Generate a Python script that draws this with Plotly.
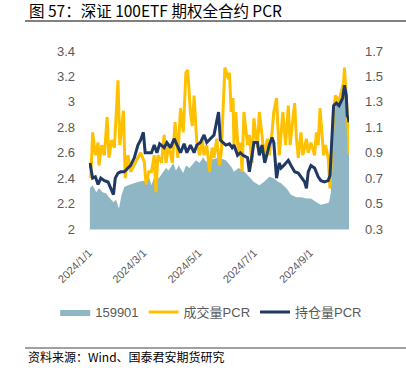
import plotly.graph_objects as go

# 159901 (left axis)
etf_dates = ["2024-01-02","2024-01-05","2024-01-09","2024-01-12","2024-01-16","2024-01-20","2024-01-23",
             "2024-01-28","2024-01-31","2024-02-03","2024-02-06","2024-02-09","2024-02-13","2024-02-19",
             "2024-02-24","2024-03-01","2024-03-04","2024-03-07","2024-03-10","2024-03-13","2024-03-15",
             "2024-03-18","2024-03-23","2024-03-26","2024-03-29","2024-04-03","2024-04-06","2024-04-09",
             "2024-04-14","2024-04-17","2024-04-21","2024-04-25","2024-04-28","2024-05-02","2024-05-06",
             "2024-05-09","2024-05-13","2024-05-18","2024-05-24","2024-05-26","2024-05-31","2024-06-06",
             "2024-06-09","2024-06-14","2024-06-19","2024-06-22","2024-06-26","2024-07-01","2024-07-07",
             "2024-07-12","2024-07-18","2024-07-23","2024-07-28","2024-07-31","2024-08-06","2024-08-11",
             "2024-08-17","2024-08-22","2024-08-28","2024-09-02","2024-09-08","2024-09-13","2024-09-19",
             "2024-09-22","2024-09-24","2024-09-26","2024-09-27","2024-09-30","2024-10-03","2024-10-05",
             "2024-10-08","2024-10-11","2024-10-12","2024-10-14"]
etf_values = [2.32,2.345,2.29,2.32,2.29,2.28,2.25,
              2.21,2.23,2.16,2.27,2.33,2.345,2.36,
              2.37,2.38,2.37,2.41,2.345,2.41,2.40,
              2.40,2.45,2.48,2.46,2.52,2.46,2.50,
              2.44,2.50,2.48,2.52,2.54,2.52,2.565,
              2.53,2.54,2.555,2.565,2.555,2.54,2.49,
              2.45,2.48,2.46,2.44,2.41,2.37,2.345,
              2.37,2.41,2.40,2.37,2.36,2.32,2.27,
              2.25,2.25,2.24,2.24,2.21,2.19,2.20,
              2.21,2.29,2.75,2.92,2.99,3.05,3.11,
              3.18,3.03,2.84,2.66]

# 成交量PCR (right axis)
vol_dates = ["2024-01-03","2024-01-05","2024-01-08","2024-01-11","2024-01-12","2024-01-15","2024-01-18",
             "2024-01-21","2024-01-23","2024-01-26","2024-01-29","2024-02-02","2024-02-04","2024-02-08",
             "2024-02-10","2024-02-13","2024-02-16","2024-02-20","2024-02-24","2024-02-27","2024-03-02",
             "2024-03-04","2024-03-07","2024-03-10","2024-03-13","2024-03-15","2024-03-17","2024-03-21",
             "2024-03-24","2024-03-26","2024-03-29","2024-04-02","2024-04-05","2024-04-08","2024-04-11",
             "2024-04-14","2024-04-17","2024-04-19","2024-04-22","2024-04-24","2024-04-26","2024-04-29",
             "2024-05-02","2024-05-05","2024-05-07","2024-05-10","2024-05-13","2024-05-16","2024-05-18",
             "2024-05-21","2024-05-24","2024-05-26","2024-05-28","2024-05-30","2024-06-03","2024-06-04",
             "2024-06-06","2024-06-08","2024-06-09","2024-06-11","2024-06-14","2024-06-16","2024-06-18",
             "2024-06-20","2024-06-24","2024-06-26","2024-06-29","2024-07-01","2024-07-05","2024-07-07",
             "2024-07-10","2024-07-12","2024-07-16","2024-07-18","2024-07-21","2024-07-23","2024-07-26",
             "2024-07-29","2024-07-31","2024-08-02","2024-08-05","2024-08-08","2024-08-10","2024-08-15",
             "2024-08-17","2024-08-19","2024-08-22","2024-08-24","2024-08-28","2024-08-30","2024-09-02",
             "2024-09-06","2024-09-08","2024-09-10","2024-09-12","2024-09-16","2024-09-18","2024-09-21",
             "2024-09-23","2024-09-27","2024-09-29","2024-10-02","2024-10-04","2024-10-08","2024-10-09",
             "2024-10-11","2024-10-13","2024-10-14"]
vol_pcr = [0.70,1.06,0.88,0.98,0.80,0.96,0.88,
           1.18,0.86,1.00,0.94,1.47,0.96,1.23,
           0.70,0.88,0.75,0.80,0.86,0.90,0.83,
           0.65,0.75,0.75,0.88,0.59,0.88,0.82,
           1.04,0.82,0.96,0.82,1.14,0.86,1.25,
           1.06,1.53,1.55,1.22,1.11,1.35,0.98,
           0.88,1.01,0.88,0.96,0.75,0.94,0.86,
           1.01,0.80,0.90,1.22,1.57,1.48,1.53,
           1.22,1.33,0.96,1.22,0.88,0.98,0.75,
           1.22,0.96,1.04,0.82,1.17,0.94,1.22,
           1.04,0.88,1.01,0.88,1.06,1.22,1.33,
           0.88,1.04,1.22,0.96,1.27,0.96,1.29,
           1.01,0.86,1.06,0.88,1.01,0.90,0.98,
           0.88,1.06,0.96,1.25,0.88,0.96,0.86,
           0.62,1.22,1.35,1.31,1.33,1.45,1.57,
           1.35,1.09,0.89]

# 持仓量PCR (right axis)
oi_dates = ["2024-01-02","2024-01-05","2024-01-08","2024-01-11","2024-01-14","2024-01-18","2024-01-22",
            "2024-01-25","2024-01-28","2024-01-30","2024-02-02","2024-02-05","2024-02-09","2024-02-13",
            "2024-02-16","2024-02-20","2024-02-24","2024-02-27","2024-03-01","2024-03-03","2024-03-07",
            "2024-03-10","2024-03-13","2024-03-16","2024-03-19","2024-03-24","2024-03-27","2024-03-31",
            "2024-04-04","2024-04-07","2024-04-11","2024-04-15","2024-04-18","2024-04-22","2024-04-26",
            "2024-04-29","2024-05-03","2024-05-07","2024-05-10","2024-05-14","2024-05-18","2024-05-23",
            "2024-05-25","2024-05-28","2024-05-31","2024-06-04","2024-06-07","2024-06-09","2024-06-13",
            "2024-06-16","2024-06-19","2024-06-24","2024-06-26","2024-06-29","2024-07-01","2024-07-05",
            "2024-07-07","2024-07-10","2024-07-13","2024-07-18","2024-07-21","2024-07-23","2024-07-26",
            "2024-07-29","2024-07-31","2024-08-03","2024-08-08","2024-08-11","2024-08-15","2024-08-19",
            "2024-08-22","2024-08-26","2024-08-28","2024-08-30","2024-09-02","2024-09-06","2024-09-10",
            "2024-09-13","2024-09-17","2024-09-21","2024-09-23","2024-09-27","2024-09-30","2024-10-03",
            "2024-10-07","2024-10-09","2024-10-11","2024-10-12","2024-10-13","2024-10-14"]
oi_pcr = [0.82,0.70,0.71,0.65,0.70,0.68,0.67,
          0.62,0.57,0.70,0.74,0.75,0.75,0.78,
          0.80,0.86,0.96,1.00,1.06,0.90,0.90,
          0.90,0.96,0.90,0.97,0.94,0.98,0.94,
          1.01,0.96,0.90,0.97,0.90,0.96,0.90,
          0.96,0.98,1.04,0.98,1.01,1.04,1.22,
          1.00,0.98,0.96,0.97,0.94,0.96,0.88,
          0.90,0.88,0.86,0.75,0.88,0.98,0.98,
          0.88,0.96,0.82,0.96,1.02,0.98,0.70,
          0.82,0.78,0.80,0.84,0.80,0.75,0.74,
          0.71,0.67,0.62,0.75,0.80,0.78,0.71,
          0.68,0.67,0.68,0.72,1.27,1.29,1.27,
          1.33,1.43,1.35,1.19,1.18,1.14]

tick_vals = ["2024-01-01","2024-03-01","2024-05-01","2024-07-01","2024-09-01"]
tick_text = ["2024/1/1","2024/3/1","2024/5/1","2024/7/1","2024/9/1"]

FONT = "Liberation Sans, Arial, sans-serif"
CJK = "Noto Sans CJK SC, sans-serif"
LEG = "Liberation Sans, Noto Sans CJK SC, sans-serif"
GRAY = "#595959"

fig = go.Figure()
fig.add_trace(go.Scatter(x=etf_dates, y=etf_values, name="159901", mode="lines",
                         line=dict(width=0, color="#8FB6C4"), fill="tozeroy",
                         fillcolor="#8FB6C4", yaxis="y"))
fig.add_trace(go.Scatter(x=vol_dates, y=vol_pcr, name="成交量PCR", mode="lines",
                         line=dict(width=3, color="#FFC000"), yaxis="y2"))
fig.add_trace(go.Scatter(x=oi_dates, y=oi_pcr, name="持仓量PCR", mode="lines",
                         line=dict(width=3, color="#1F3864"), yaxis="y2"))

fig.update_layout(
    width=406, height=368,
    margin=dict(l=89, r=57, t=51, b=139),
    paper_bgcolor="white", plot_bgcolor="white",
    showlegend=True,
    legend=dict(orientation="h", x=-0.13, xanchor="left", y=-0.466, yanchor="middle",
                font=dict(family=LEG, size=13, color=GRAY), bgcolor="rgba(0,0,0,0)",
                itemwidth=30, traceorder="normal"),
    xaxis=dict(type="date", range=["2024-01-01", "2024-10-14"], tickvals=tick_vals,
               ticktext=tick_text, tickangle=-45, tickfont=dict(family=FONT, size=11, color=GRAY),
               showgrid=False, zeroline=False, showline=True, linecolor="#D9D9D9", linewidth=1,
               ticks="", ticklabelstandoff=12),
    yaxis=dict(range=[2, 3.4], dtick=0.2, tick0=2, showgrid=False, zeroline=False,
               tickfont=dict(family=FONT, size=13, color=GRAY), ticks="", ticklabelstandoff=13),
    yaxis2=dict(range=[0.3, 1.7], dtick=0.2, tick0=0.3, overlaying="y", side="right",
                showgrid=False, zeroline=False, tickformat=".1f",
                tickfont=dict(family=FONT, size=13, color=GRAY), ticks="", ticklabelstandoff=15),
)

fig.add_annotation(text="图 57：深证 100ETF 期权全合约 PCR", xref="paper", yref="paper",
                   x=-0.238, y=1.23, xanchor="left", yanchor="middle", showarrow=False,
                   font=dict(family=CJK, size=15.5, color="black"))
fig.add_annotation(text="资料来源：Wind、国泰君安期货研究", xref="paper", yref="paper",
                   x=-0.242, y=-0.719, xanchor="left", yanchor="middle", showarrow=False,
                   font=dict(family=CJK, size=12, color="black"))
fig.add_shape(type="line", xref="paper", yref="paper", x0=-0.246, x1=1.22, y0=1.1685, y1=1.1685,
              line=dict(color="#808080", width=2))
fig.add_shape(type="line", xref="paper", yref="paper", x0=-0.246, x1=1.22, y0=-0.669, y1=-0.669,
              line=dict(color="#808080", width=1.5))

fig.write_html("out.html", config={"displayModeBar": False},
               post_script="document.body.style.margin='0';document.body.style.padding='0';")
